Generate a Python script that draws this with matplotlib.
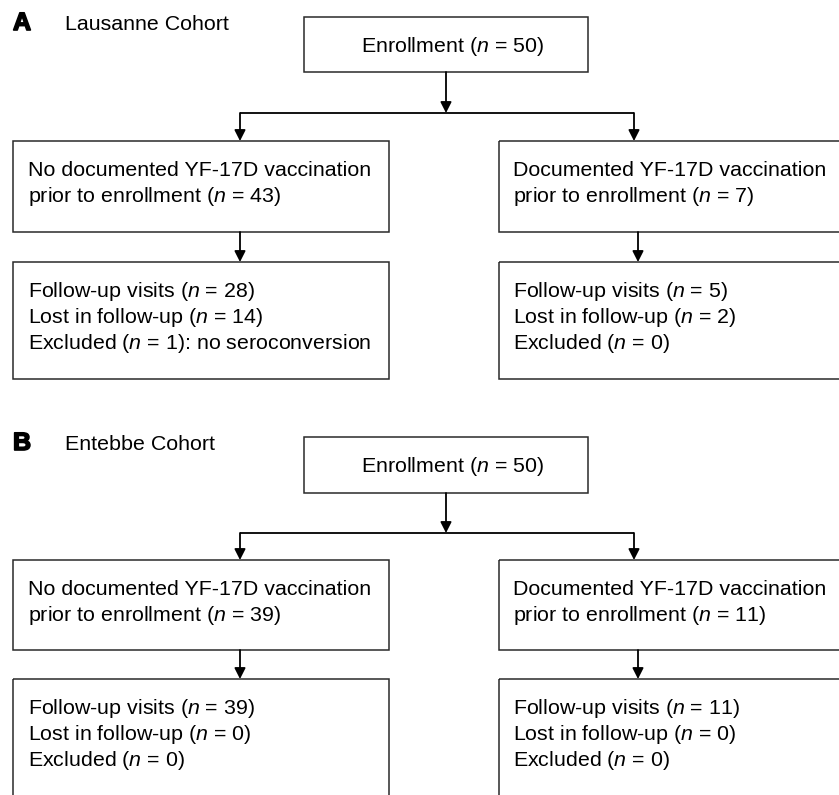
import matplotlib
matplotlib.use("Agg")
import matplotlib.pyplot as plt
import matplotlib.patheffects as pe
from matplotlib.patches import Rectangle

plt.rcParams['font.family'] = ['Liberation Sans', 'DejaVu Sans']
plt.rcParams['mathtext.fontset'] = 'custom'
plt.rcParams['mathtext.rm'] = 'Liberation Sans'
plt.rcParams['mathtext.it'] = 'Liberation Sans:italic'

# data
panel_labels = ["A", "B"]
cohorts = ["Lausanne Cohort", "Entebbe Cohort"]
enrolled = [50, 50]
no_prior = [43, 39]
prior = [7, 11]
no_prior_followup = [28, 39]
no_prior_lost = [14, 0]
no_prior_excluded = [1, 0]
no_prior_note = [": no seroconversion", ""]
prior_followup = [5, 11]
prior_lost = [2, 0]
prior_excluded = [0, 0]

# layout: title baseline, enroll top, enroll bottom, split line, row2 top, row2 bottom, row3 top, row3 bottom
panel_rows = [
	[30, 17, 72, 113, 141, 232, 262, 379],
	[450, 437, 493, 533, 560, 650, 679, 800],
]

FS = 15.4
EDGE = '#2a2a2a'
N = r"$\mathit{n}$"


def nstr(v):
	return "(" + N + " = %d)" % v


def box(ax, x, y0, x1, y1):
	ax.add_patch(Rectangle((x, y0), x1 - x, y1 - y0, fill=False, edgecolor=EDGE, lw=1.1))


def arrow(ax, x, y0, y1):
	ax.annotate("", xy=(x, y1), xytext=(x, y0),
		arrowprops=dict(arrowstyle='-|>,head_length=0.65,head_width=0.33',
			color='black', lw=1.3, shrinkA=0, shrinkB=0))


def lines(ax, x, top, texts):
	for k, t in enumerate(texts):
		ax.text(x, top + 35 + 26 * k, t, fontsize=FS, va='baseline', ha='left')


def draw_panel(ax, i):
	title_y, e0, e1, split, r2a, r2b, r3a, r3b = panel_rows[i]
	ax.text(13, title_y, panel_labels[i], fontsize=18, fontweight='bold', va='baseline',
		path_effects=[pe.withStroke(linewidth=1.2, foreground='black')])
	ax.text(65, title_y, cohorts[i], fontsize=FS, va='baseline')

	# enrollment
	box(ax, 304, e0, 588, e1)
	ax.text(452, e0 + 35, "Enrollment " + nstr(enrolled[i]), fontsize=FS,
		va='baseline', ha='center')
	arrow(ax, 446, e1, split)
	ax.plot([240, 634], [split, split], color='black', lw=1.3, solid_capstyle='butt')
	arrow(ax, 240, split, r2a)
	arrow(ax, 634, split, r2a)

	# second row
	box(ax, 13, r2a, 389, r2b)
	box(ax, 499, r2a, 880, r2b)
	lines(ax, 28, r2a, ["No documented YF-17D vaccination",
		"prior to enrollment " + nstr(no_prior[i])])
	lines(ax, 513, r2a, ["Documented YF-17D vaccination",
		"prior to enrollment " + nstr(prior[i])])
	arrow(ax, 240, r2b, r3a)
	arrow(ax, 638, r2b, r3a)

	# third row
	box(ax, 13, r3a, 389, r3b)
	box(ax, 499, r3a, 880, r3b)
	lines(ax, 28, r3a, ["Follow-up visits " + nstr(no_prior_followup[i]),
		"Lost in follow-up " + nstr(no_prior_lost[i]),
		"Excluded " + nstr(no_prior_excluded[i]) + no_prior_note[i]])
	lines(ax, 513, r3a, ["Follow-up visits " + nstr(prior_followup[i]),
		"Lost in follow-up " + nstr(prior_lost[i]),
		"Excluded " + nstr(prior_excluded[i])])


def main():
	fig = plt.figure(figsize=(8.39, 7.95), dpi=100)
	ax = fig.add_axes([0, 0, 1, 1])
	ax.set_xlim(0, 839)
	ax.set_ylim(795, 0)
	ax.axis('off')
	for i in range(len(cohorts)):
		draw_panel(ax, i)
	fig.savefig("out.png", dpi=100)


if __name__ == "__main__":
	main()
